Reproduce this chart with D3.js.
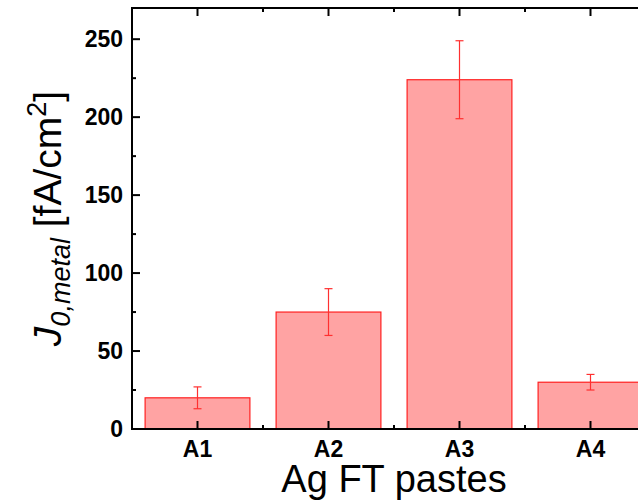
<!DOCTYPE html>
<meta charset="utf-8">
<style>
body { margin: 0; background: #fff; }
svg { display: block; }
.tick-label { font: bold 23px "Liberation Sans", Arial, sans-serif; fill: #000; }
.title { font-family: "Liberation Sans", Arial, sans-serif; fill: #000; }
</style>
<svg width="638" height="504"></svg>
<script src="https://d3js.org/d3.v7.min.js"></script>
<script>

// data
var pastes = ["A1", "A2", "A3", "A4"];
var j0metal = [20, 75, 224, 30];
var j0err = [7, 15, 25, 5];
var yTicks = [0, 50, 100, 150, 200, 250];
var yMinor = [25, 75, 125, 175, 225];

var svg = d3.select("svg");
var pLeft = 132, pRight = 656, pTop = 8, pBottom = 429;

var x = d3.scaleBand()
    .domain(pastes)
    .range([pLeft, pRight])
    .paddingInner(0.2)
    .paddingOuter(0.1);

var y = d3.scaleLinear()
    .domain([0, 270])
    .range([pBottom, pTop]);

var step = x.step();
var xs = function(d) { return x(d) + x.bandwidth() / 2; };

// bars
var g = svg.append("g");
g.selectAll("rect")
    .data(pastes)
  .enter().append("rect")
    .attr("x", function(d) { return x(d); })
    .attr("y", function(d, i) { return y(j0metal[i]); })
    .attr("width", x.bandwidth())
    .attr("height", function(d, i) { return y(0) - y(j0metal[i]); })
    .style("fill", "#ffa3a3")
    .style("stroke", "#ff2020")
    .style("stroke-width", 1.2);

// error bars
var err = g.selectAll(".err")
    .data(pastes)
  .enter().append("g")
    .attr("class", "err")
    .style("stroke", "#ff3030")
    .style("stroke-width", 1.2);
err.append("line")
    .attr("x1", xs)
    .attr("x2", xs)
    .attr("y1", function(d, i) { return y(j0metal[i] + j0err[i]); })
    .attr("y2", function(d, i) { return y(j0metal[i] - j0err[i]); });
[1, -1].forEach(function(s) {
  err.append("line")
      .attr("x1", function(d) { return xs(d) - 4; })
      .attr("x2", function(d) { return xs(d) + 4; })
      .attr("y1", function(d, i) { return y(j0metal[i] + s * j0err[i]); })
      .attr("y2", function(d, i) { return y(j0metal[i] + s * j0err[i]); });
});

// axes (ticks point inward)
var xMinor = pastes.slice(1).map(function(d) { return xs(d) - step / 2; });

var ax = svg.append("g").style("stroke", "#000").style("stroke-width", 2);
ax.append("path")
    .attr("d", "M" + pLeft + "," + pTop + "V" + pBottom + "H" + pRight + "V" + pTop + "Z")
    .style("fill", "none");

yTicks.forEach(function(v) {
  ax.append("line").attr("x1", pLeft).attr("x2", pLeft + 8).attr("y1", y(v)).attr("y2", y(v));
});
yMinor.forEach(function(v) {
  ax.append("line").attr("x1", pLeft).attr("x2", pLeft + 4).attr("y1", y(v)).attr("y2", y(v));
});
pastes.forEach(function(d) {
  ax.append("line").attr("x1", xs(d)).attr("x2", xs(d)).attr("y1", pBottom).attr("y2", pBottom - 8);
  ax.append("line").attr("x1", xs(d)).attr("x2", xs(d)).attr("y1", pTop).attr("y2", pTop + 8);
});
xMinor.forEach(function(px) {
  ax.append("line").attr("x1", px).attr("x2", px).attr("y1", pBottom).attr("y2", pBottom - 4);
  ax.append("line").attr("x1", px).attr("x2", px).attr("y1", pTop).attr("y2", pTop + 4);
});

// tick labels
svg.selectAll(".ylab")
    .data(yTicks)
  .enter().append("text")
    .attr("class", "tick-label")
    .attr("x", pLeft - 9)
    .attr("y", function(d) { return y(d); })
    .attr("dy", "0.36em")
    .attr("text-anchor", "end")
    .text(function(d) { return d; });

svg.selectAll(".xlab")
    .data(pastes)
  .enter().append("text")
    .attr("class", "tick-label")
    .attr("x", xs)
    .attr("y", 457)
    .attr("text-anchor", "middle")
    .text(function(d) { return d; });

// axis titles
svg.append("text")
    .attr("class", "title")
    .attr("x", (pLeft + pRight) / 2)
    .attr("y", 492)
    .attr("text-anchor", "middle")
    .style("font-size", "38px")
    .text("Ag FT pastes");

var yt = svg.append("text")
    .attr("class", "title")
    .attr("transform", "translate(61," + (pTop + pBottom) / 2 + ") rotate(-90)")
    .attr("text-anchor", "middle")
    .style("font-size", "39px");
yt.append("tspan").style("font-style", "italic").text("J");
yt.append("tspan").style("font-style", "italic").style("font-size", "27px").attr("dy", 9).text("0,metal");
yt.append("tspan").attr("dy", -9).text(" [fA/cm");
yt.append("tspan").style("font-size", "27px").attr("dy", -15).text("2");
yt.append("tspan").attr("dy", 15).text("]");

</script>
